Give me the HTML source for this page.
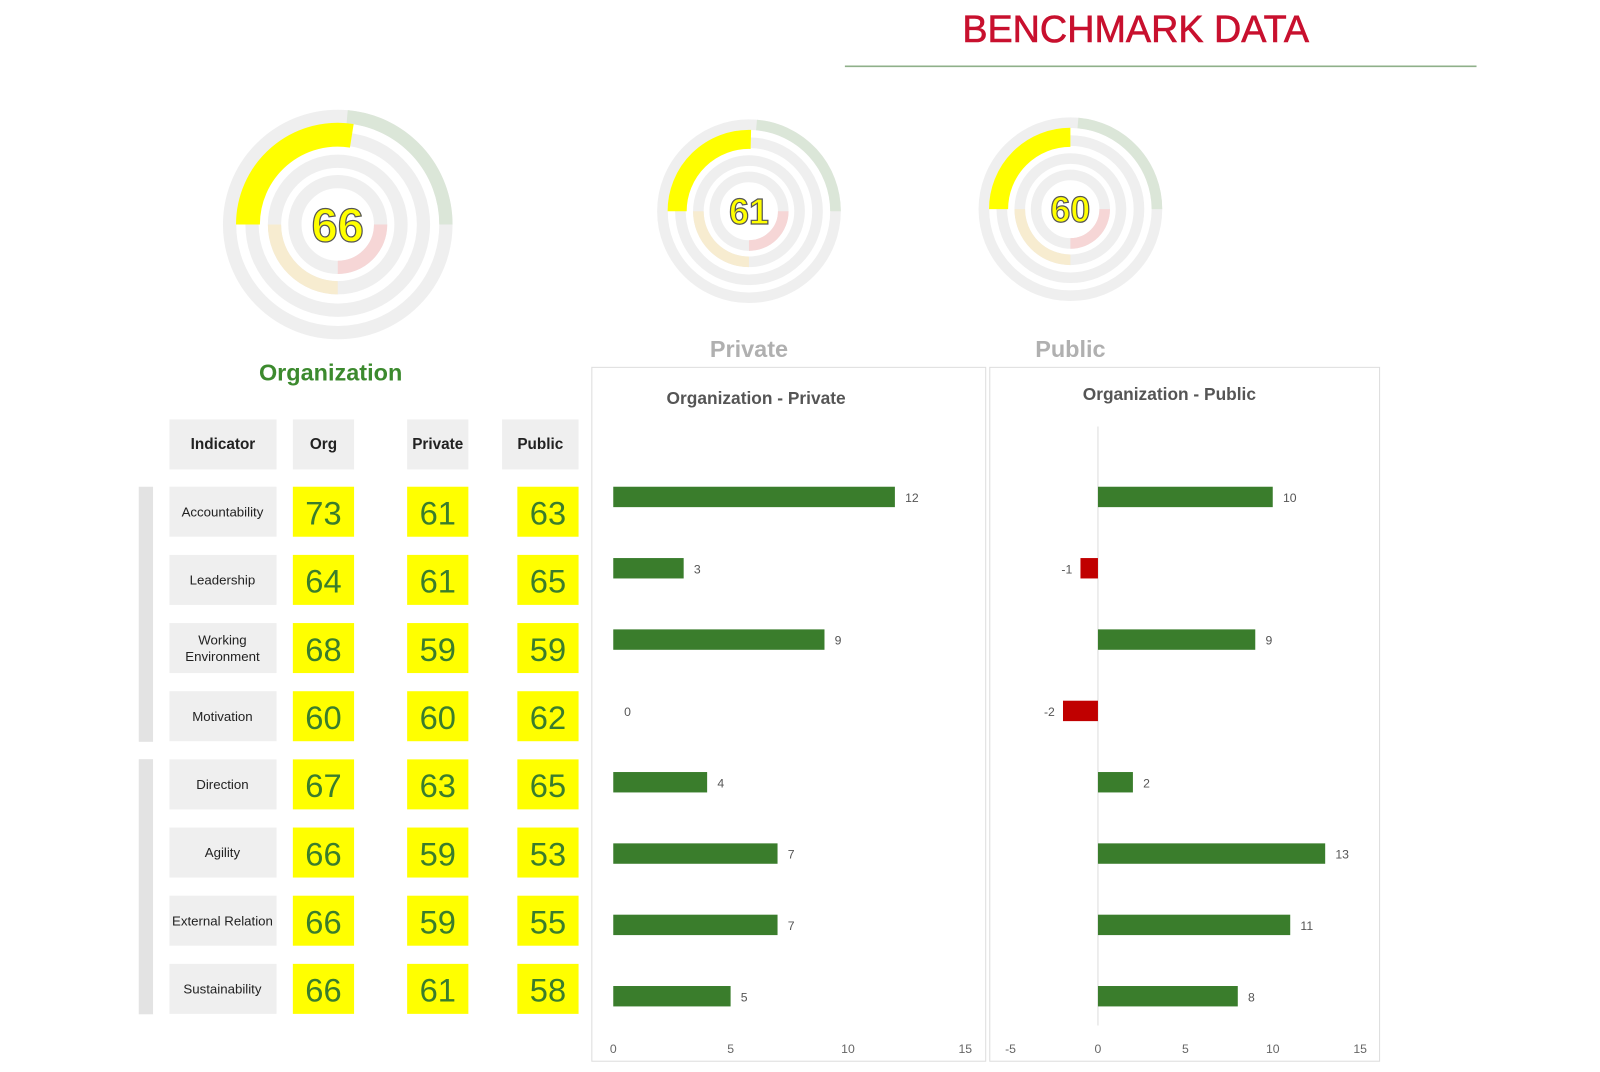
<!DOCTYPE html>
<html><head><meta charset="utf-8">
<style>
html,body{margin:0;padding:0;background:#fff;width:1600px;height:1072px;overflow:hidden}
#wrap{position:absolute;left:0;top:0;width:1560px;height:1045px;transform:scale(1.0204);transform-origin:0 0;font-family:"Liberation Sans",sans-serif}
</style></head>
<body>
<div id="wrap">
<svg id="svg" width="1560" height="1045" viewBox="0 0 1560 1045" xmlns="http://www.w3.org/2000/svg">
  <text x="1113" y="41" text-anchor="middle" font-size="37" fill="#c8102e" stroke="#c8102e" stroke-width="0.6" font-family="Liberation Sans, sans-serif">BENCHMARK DATA</text>
  <line x1="828" y1="65" x2="1447" y2="65" stroke="#8fb08a" stroke-width="1.5"/>
  <g id="gauges"></g>
  <text x="324" y="373" text-anchor="middle" font-size="23" font-weight="bold" fill="#3c8a2e">Organization</text>
  <text x="734" y="350" text-anchor="middle" font-size="23" font-weight="bold" fill="#b0b0b0">Private</text>
  <text x="1049" y="350" text-anchor="middle" font-size="23" font-weight="bold" fill="#b0b0b0">Public</text>
  <g id="table"></g>
  <rect x="580" y="360" width="386" height="680" fill="none" stroke="#ddd"/>
  <rect x="970" y="360" width="382" height="680" fill="none" stroke="#ddd"/>
  <text x="741" y="396" text-anchor="middle" font-size="17" font-weight="bold" fill="#555">Organization - Private</text>
  <text x="1146" y="392" text-anchor="middle" font-size="17" font-weight="bold" fill="#555">Organization - Public</text>
  <g id="charts"></g>
</svg>
</div>
<script>
const indicators=["Accountability","Leadership","Working Environment","Motivation","Direction","Agility","External Relation","Sustainability"];
const orgScores=[73,64,68,60,67,66,66,66];
const privateScores=[61,61,59,60,63,59,59,61];
const publicScores=[63,65,59,62,65,53,55,58];
const privateDiff=[12,3,9,0,4,7,7,5];
const publicDiff=[10,-1,9,-2,2,13,11,8];
const gaugeValues=[66,61,60];
const xTicksPrivate=[0,5,10,15];
const xTicksPublic=[-5,0,5,10,15];

const NS="http://www.w3.org/2000/svg";
function mk(tag,attrs,parent,txt){const e=document.createElementNS(NS,tag);for(const k in attrs)e.setAttribute(k,attrs[k]);if(txt!==undefined)e.textContent=txt;parent.appendChild(e);return e;}
function arc(cx,cy,r,a0,a1){const p=a=>[cx+r*Math.sin(a*Math.PI/180),cy-r*Math.cos(a*Math.PI/180)];const s=p(a0),e=p(a1);const large=((a1-a0+360)%360)>180?1:0;return `M${s[0]},${s[1]} A${r},${r} 0 ${large} 1 ${e[0]},${e[1]}`;}

// gauges
const G=document.getElementById('gauges');
const gdefs=[{cx:331,cy:220,s:1,fs:46},{cx:734,cy:207,s:0.8,fs:35},{cx:1049,cy:205,s:0.8,fs:35}];
gaugeValues.forEach((v,i)=>{
  const d=gdefs[i];const g=mk('g',{},G);
  
  
  const radii=[106,84,62,42].map(r=>r*d.s);const w=13*d.s;
  radii.forEach(r=>mk('circle',{cx:d.cx,cy:d.cy,r:r,fill:'none',stroke:'#efefef','stroke-width':w},g));
  mk('path',{d:arc(d.cx,d.cy,radii[0],5,90),fill:'none',stroke:'#dbe6d8','stroke-width':w},g);
  mk('path',{d:arc(d.cx,d.cy,radii[2],180,270),fill:'none',stroke:'#f7ecd0','stroke-width':w},g);
  mk('path',{d:arc(d.cx,d.cy,radii[3],90,180),fill:'none',stroke:'#f6d6d6','stroke-width':w},g);
  const yp=mk('path',{d:arc(d.cx,d.cy,radii[1]+4*d.s,270,270+v*1.5),fill:'none',stroke:'#ffff00','stroke-width':w*1.8},g);
  
  
  const t=mk('text',{x:d.cx,y:d.cy+d.fs*0.36,'text-anchor':'middle','font-size':d.fs,'font-weight':'bold',fill:'#ffff00',stroke:'#555','stroke-width':1.2},g,String(v));
  
  
});

// table
const T=document.getElementById('table');
const heads=[["Indicator",166,105],["Org",287,60],["Private",399,60],["Public",492,75]];
heads.forEach(h=>{
  const r=mk('rect',{x:h[1],y:411,width:h[2],height:49,fill:'#efefef'},T);
  
  
  mk('text',{x:h[1]+h[2]/2,y:440,'text-anchor':'middle','font-size':15,'font-weight':'bold',fill:'#222'},T,h[0]);
});
mk('rect',{x:136,y:477,width:14,height:250,fill:'#e3e3e3'},T);
mk('rect',{x:136,y:744,width:14,height:250,fill:'#e3e3e3'},T);
const rowTop=477,rowStep=66.8;
indicators.forEach((name,i)=>{
  const y=rowTop+i*rowStep;
  const c=mk('rect',{x:166,y:y,width:105,height:49,fill:'#efefef'},T);
  
  
  const parts=name==="Working Environment"?["Working","Environment"]:[name];
  parts.forEach((p,j)=>mk('text',{x:218,y:y+29+(parts.length>1?(j*16-8):0),'text-anchor':'middle','font-size':13,fill:'#222'},T,p));
  [[287,orgScores],[399,privateScores],[507,publicScores]].forEach(([x,arr])=>{
    const yc=mk('rect',{x:x,y:y,width:60,height:49,fill:'#ffff00'},T);
    
    
    mk('text',{x:x+30,y:y+37,'text-anchor':'middle','font-size':32,fill:'#3a7d2c'},T,String(arr[i]));
  });
});

// charts
const C=document.getElementById('charts');
const barY=i=>487+i*69.9;
function chart(vals,ticks,x0,unit,name){
  const sx=v=>x0+v*unit;
  const g=mk('g',{},C);
  
  
  ticks.forEach(t=>mk('text',{x:sx(t),y:1032,'text-anchor':'middle','font-size':12,fill:'#666'},g,String(t)));
  if(ticks[0]<0) mk('line',{x1:sx(0),y1:418,x2:sx(0),y2:1005,stroke:'#ddd'},g);
  vals.forEach((v,i)=>{
    const y=barY(i);
    if(v!==0){
      const b=mk('rect',{x:Math.min(sx(0),sx(v)),y:y-10,width:Math.abs(sx(v)-sx(0)),height:20,fill:v<0?'#c00000':'#3a7d2c'},g);
      
      
    }
    const lx=v<0?sx(v)-8:sx(v)+(v===0?14:10);
    mk('text',{x:lx,y:y+5,'text-anchor':v<0?'end':(v===0?'middle':'start'),'font-size':12,fill:'#555'},g,String(v));
  });
}
chart(privateDiff,xTicksPrivate,601,23,'private-diff-chart');
chart(publicDiff,xTicksPublic,1076,17.13,'public-diff-chart');
</script>
</body></html>
